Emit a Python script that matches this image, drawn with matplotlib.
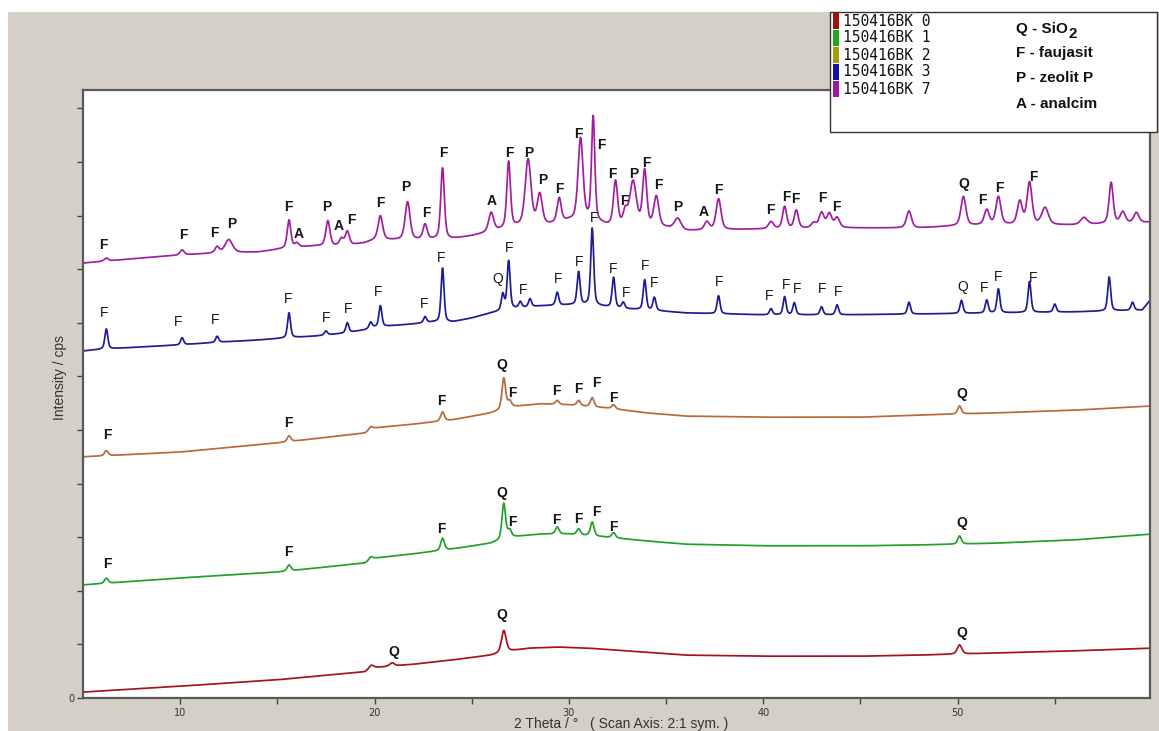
import numpy as np
import matplotlib
matplotlib.use("Agg")
import matplotlib.pyplot as plt
from matplotlib.patches import Rectangle
from matplotlib.ticker import FixedLocator, FixedFormatter

# ---------------------------------------------------------------------------
# Diffraction patterns: background control points (2theta, cps) and peak lists
# (position in 2theta, height above background in cps, FWHM in degrees)
# ---------------------------------------------------------------------------
two_theta = np.arange(5.0, 60.0001, 0.02)

sample_names = ["150416BK 0", "150416BK 1", "150416BK 2", "150416BK 3", "150416BK 7"]
legend_colors = ["#a01010", "#1fa81f", "#a89a10", "#1414a0", "#a414a4"]
trace_colors = ["#a3141c", "#22a02a", "#b86a3a", "#1c1c96", "#a01ea0"]

# BK 0
bk0_base_x = [5, 10, 15, 19.5, 19.8, 21, 22, 24, 26, 27, 28, 29.5, 31, 33, 36, 40, 45, 48, 52, 56, 60]
bk0_base_y = [110, 220, 340, 490, 560, 600, 630, 710, 800, 880, 930, 950, 930, 880, 800, 780, 780, 800, 840, 880, 930]
bk0_peak_pos = [19.85, 20.9, 26.65, 50.1]
bk0_peak_h = [50, 60, 410, 170]
bk0_label_txt = "QQQ"
bk0_label_x = [21.0, 26.56, 50.21]
bk0_label_y = [858, 1549, 1213]

# BK 1 and BK 2 share the same background grid
bk12_base_x = [5, 10, 15, 19.5, 20, 22, 24, 26, 27, 28.5, 30, 32, 34, 36, 40, 45, 48, 52, 56, 60]
bk12_peak_pos = [6.2, 15.6, 19.8, 23.5, 26.65, 26.95, 29.4, 30.5, 31.2, 32.3, 50.1]
bk12_label_txt = "FFFQFFFFFQ"
bk12_label_x = [6.25, 15.55, 23.45, 26.56, 27.07, 29.38, 30.51, 31.39, 32.31, 50.21]

bk1_base_y = [2110, 2240, 2350, 2520, 2610, 2690, 2780, 2890, 3000, 3060,
              3060, 3000, 2930, 2870, 2840, 2840, 2855, 2890, 2950, 3060]
bk1_peak_h = [95, 110, 60, 225, 670, 130, 130, 110, 260, 95, 150]
bk1_label_y = [2500, 2724, 3154, 3825, 3284, 3321, 3340, 3471, 3191, 3266]

bk2_base_y = [4500, 4590, 4760, 4945, 5040, 5110, 5190, 5320, 5430, 5490,
              5470, 5410, 5320, 5260, 5240, 5240, 5280, 5320, 5370, 5450]
bk2_peak_h = [95, 110, 60, 170, 580, 110, 75, 95, 170, 75, 150]
bk2_label_y = [4908, 5132, 5542, 6214, 5691, 5729, 5766, 5878, 5598, 5673]

# BK 3
bk3_base_x = [5, 6, 8, 10, 12, 14, 15.5, 17, 18.5, 19.5, 20, 22, 23, 24, 25, 26,
              27, 28.5, 30, 31, 32, 33, 34, 36, 40, 44, 48, 52, 56, 59.5, 60]
bk3_base_y = [6475, 6510, 6550, 6590, 6640, 6680, 6720, 6755, 6810, 6870, 6920, 6980,
              7015, 7015, 7090, 7185, 7260, 7315, 7335, 7335, 7295, 7260, 7240, 7185,
              7150, 7150, 7165, 7185, 7205, 7240, 7465]
bk3_peak_pos = [6.2, 10.1, 11.9, 15.6, 17.5, 18.6, 19.8, 20.3, 22.6, 23.5,
                26.6, 26.9, 27.5, 28.0, 29.4, 30.5, 31.2, 32.3, 32.8, 33.9,
                34.4, 37.7, 40.4, 41.1, 41.6, 43.0, 43.8, 47.5, 50.2, 51.5,
                52.1, 53.7, 55.0, 57.8, 59.0]
bk3_peak_h = [373, 131, 112, 467, 75, 187, 112, 392, 112, 1008,
              300, 900, 112, 150, 243, 616, 1437, 560, 112, 560,
              243, 336, 112, 336, 224, 150, 187, 224, 243, 243,
              448, 578, 150, 634, 150]
bk3_label_txt = "FFFFFFFFFQFFFFFFFFFFFFFFFQFFF"
bk3_label_x = [6.09, 9.90, 11.80, 15.55, 17.51, 18.64, 20.18, 22.55, 23.42, 26.35,
               26.92, 27.64, 29.43, 30.51, 31.29, 32.26, 32.93, 33.91, 34.37, 37.71,
               40.28, 41.16, 41.72, 43.01, 43.83, 50.26, 51.39, 52.06, 53.91]
bk3_label_y = [7184, 7016, 7053, 7445, 7091, 7259, 7576, 7352, 8210, 7819,
               8397, 7613, 7819, 8136, 8957, 8005, 7557, 8061, 7744, 7763,
               7501, 7707, 7632, 7632, 7576, 7669, 7651, 7856, 7837]

# BK 7
bk7_base_x = [5, 8, 10, 12, 14, 15.5, 17, 18.5, 19.5, 20, 22, 24, 25, 26, 27, 28,
              29, 30, 31, 32, 34, 35, 36, 38, 40, 44, 48, 50, 52, 56, 60]
bk7_base_y = [8115, 8210, 8265, 8305, 8320, 8395, 8435, 8435, 8490, 8545, 8545,
              8565, 8620, 8695, 8770, 8810, 8826, 8900, 8900, 8808, 8790, 8770,
              8715, 8735, 8750, 8770, 8770, 8810, 8825, 8825, 8880]
bk7_peak_pos = [6.2, 10.1, 11.9, 12.5, 15.6, 16.0, 17.6, 18.3, 18.6, 20.3,
                21.7, 22.6, 23.5, 26.0, 26.9, 27.9, 28.5, 29.5, 30.6, 31.25,
                32.4, 32.9, 33.3, 33.9, 34.5, 35.6, 37.1, 37.7, 40.4, 41.1,
                41.7, 42.6, 43.0, 43.4, 43.8, 47.5, 50.3, 51.5, 52.1, 53.2,
                53.7, 54.5, 56.5, 57.9, 58.5, 59.2]
bk7_peak_h = [56, 93, 112, 243, 522, 75, 467, 131, 261, 448,
              709, 280, 1325, 355, 1232, 1232, 560, 448, 1530, 1959,
              821, 243, 821, 1026, 560, 205, 150, 578, 131, 411,
              336, 93, 280, 261, 187, 317, 541, 280, 522, 429,
              784, 317, 131, 765, 205, 187]
bk7_peak_w = [0.25, 0.25, 0.25, 0.45, 0.22, 0.25, 0.25, 0.25, 0.25, 0.28,
              0.3, 0.25, 0.22, 0.3, 0.22, 0.35, 0.3, 0.25, 0.3, 0.2,
              0.25, 0.25, 0.4, 0.25, 0.3, 0.4, 0.3, 0.3, 0.3, 0.25,
              0.25, 0.3, 0.3, 0.3, 0.3, 0.3, 0.3, 0.3, 0.3, 0.3,
              0.3, 0.4, 0.4, 0.25, 0.3, 0.3]
bk7_label_txt = "FFFPFAPAFFPFFAFPPFFFFFPFFPAFFFFFFQFFF"
bk7_label_x = [6.04, 10.15, 11.75, 12.67, 15.55, 16.12, 17.56, 18.17, 18.79, 20.28,
               21.62, 22.65, 23.52, 26.04, 26.92, 27.94, 28.66, 29.49, 30.51, 31.65,
               32.26, 32.83, 33.34, 34.01, 34.63, 35.60, 36.94, 37.71, 40.39, 41.21,
               41.67, 43.06, 43.78, 50.31, 51.29, 52.16, 53.91]
bk7_label_y = [8453, 8640, 8677, 8845, 9162, 8658, 9162, 8808, 8919, 9237,
               9535, 9050, 10170, 9274, 10170, 10170, 9666, 9498, 10524, 10319,
               9778, 9274, 9778, 9983, 9573, 9162, 9069, 9479, 9106, 9349,
               9311, 9330, 9162, 9591, 9293, 9517, 9722]

phase_legend = ["Q - SiO", "F - faujasit", "P - zeolit P", "A - analcim"]


def pattern(base_x, base_y, pos, height, width):
    """Background plus pseudo-Voigt reflections."""
    y = np.interp(two_theta, base_x, base_y).astype(float)
    if np.isscalar(width):
        width = [width] * len(pos)
    for p, h, w in zip(pos, height, width):
        d = (two_theta - p) / w
        lor = 1.0 / (1.0 + 4.0 * d ** 2)
        gau = np.exp(-4.0 * np.log(2.0) * d ** 2)
        y += h * (0.45 * lor + 0.55 * gau)
    return y


series = [
    (pattern(bk0_base_x, bk0_base_y, bk0_peak_pos, bk0_peak_h, 0.28),
     bk0_label_txt, bk0_label_x, bk0_label_y, "bold"),
    (pattern(bk12_base_x, bk1_base_y, bk12_peak_pos, bk1_peak_h, 0.22),
     bk12_label_txt, bk12_label_x, bk1_label_y, "bold"),
    (pattern(bk12_base_x, bk2_base_y, bk12_peak_pos, bk2_peak_h, 0.22),
     bk12_label_txt, bk12_label_x, bk2_label_y, "bold"),
    (pattern(bk3_base_x, bk3_base_y, bk3_peak_pos, bk3_peak_h, 0.18),
     bk3_label_txt, bk3_label_x, bk3_label_y, "normal"),
    (pattern(bk7_base_x, bk7_base_y, bk7_peak_pos, bk7_peak_h, bk7_peak_w),
     bk7_label_txt, bk7_label_x, bk7_label_y, "bold"),
]

W, H = 1159, 731
fig = plt.figure(figsize=(W / 100, H / 100), dpi=100, facecolor="white")

# window-grey frame behind the plot
fig.add_artist(Rectangle((8 / W, 0), 1 - 8 / W, (H - 12) / H, transform=fig.transFigure,
                         facecolor="#d4d0c8", edgecolor="none", zorder=-10))

ax = fig.add_axes([83 / W, (H - 698) / H, (1150 - 83) / W, (698 - 90) / H])
ax.set_facecolor("white")
ax.set_xlim(5, 59.9)
ax.set_ylim(0, 11345)

for (y, txt, lx, ly, weight), col in zip(series, trace_colors):
    ax.plot(two_theta, y, color=col, lw=1.25, solid_joinstyle="round")
    for t, xx, yy in zip(txt, lx, ly):
        ax.text(xx, yy, t, ha="center", va="center", fontsize=10, fontweight=weight,
                family="Liberation Sans", color="#151515")

for sp in ax.spines.values():
    sp.set_color("#5a5a5a")
    sp.set_linewidth(1.6)

ax.xaxis.set_major_locator(FixedLocator([10, 20, 30, 40, 50]))
ax.xaxis.set_minor_locator(FixedLocator([15, 25, 35, 45, 55]))
ax.tick_params(axis="x", which="both", direction="out", length=4, width=1.0,
               color="#444444", labelsize=7, pad=3, labelcolor="#333333")
yt = list(range(0, 11001, 1000))
ax.yaxis.set_major_locator(FixedLocator(yt))
ax.yaxis.set_major_formatter(FixedFormatter(["0"] + [""] * (len(yt) - 1)))
ax.tick_params(axis="y", direction="out", length=4, width=1.0, color="#444444",
               labelsize=7, pad=2, labelcolor="#333333")

fig.text(621 / W, 1 - 724 / H, "2 Theta / \u00b0   ( Scan Axis: 2:1 sym. )",
         ha="center", va="center", fontsize=10, family="Liberation Sans", color="#333333")
fig.text(60 / W, 1 - 378 / H, "Intensity / cps", rotation=90, ha="center", va="center",
         fontsize=10, family="Liberation Sans", color="#333333")

# legend panel
fig.add_artist(Rectangle((830 / W, (H - 132) / H), 327 / W, 120 / H, transform=fig.transFigure,
                         facecolor="white", edgecolor="#333333", lw=1.0, zorder=10))
row_y = [21, 38, 55, 72, 89]
for name, col, ry in zip(sample_names, legend_colors, row_y):
    fig.add_artist(Rectangle((833 / W, 1 - (ry + 8) / H), 6 / W, 16 / H,
                             transform=fig.transFigure, facecolor=col, edgecolor="none",
                             zorder=11))
    fig.text(843 / W, 1 - ry / H, name, ha="left", va="center", fontsize=10.5,
             family="DejaVu Sans Mono", color="#111111", zorder=12)

phase_y = [29, 53, 78, 104]
ptexts = []
for lbl, py in zip(phase_legend, phase_y):
    ptexts.append(fig.text(1016 / W, 1 - py / H, lbl, ha="left", va="center", fontsize=11,
                           fontweight="bold", family="Liberation Sans", color="#111111",
                           zorder=12))
fig.canvas.draw()
bb = ptexts[0].get_window_extent()
fig.text(bb.x1 / W + 0.5 / W, 1 - 34 / H, "2", ha="left", va="center", fontsize=11,
         fontweight="bold", family="Liberation Sans", color="#111111", zorder=12)

fig.savefig("out.png", dpi=100, facecolor=fig.get_facecolor())
